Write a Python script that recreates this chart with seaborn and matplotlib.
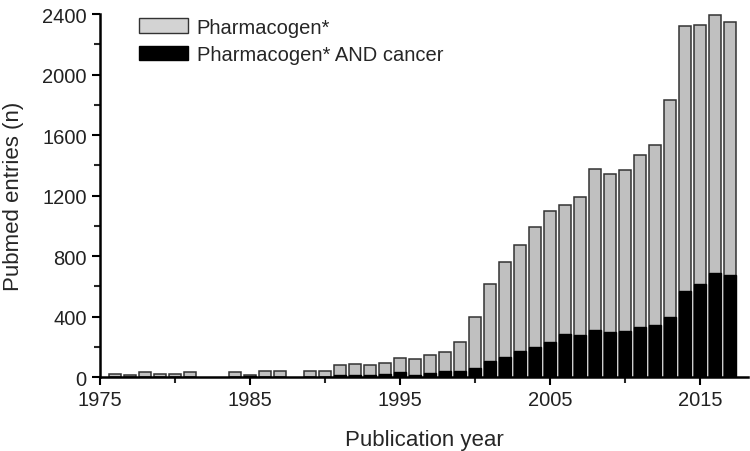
import matplotlib
matplotlib.use("Agg")
import matplotlib.pyplot as plt
from matplotlib.patches import Patch
from matplotlib.ticker import MultipleLocator
import seaborn as sns
import pandas as pd

years = [1976, 1977, 1978, 1979, 1980, 1981, 1984, 1985, 1986, 1987, 1989, 1990,
         1991, 1992, 1993, 1994, 1995, 1996, 1997, 1998, 1999, 2000, 2001, 2002,
         2003, 2004, 2005, 2006, 2007, 2008, 2009, 2010, 2011, 2012, 2013, 2014,
         2015, 2016, 2017]
pharmacogen = [22, 15, 30, 22, 22, 30, 30, 15, 40, 37, 42, 38,
               77, 86, 78, 92, 123, 117, 145, 168, 233, 395, 618, 760,
               875, 992, 1097, 1135, 1192, 1377, 1340, 1371, 1468, 1532, 1834, 2318,
               2325, 2395, 2345]
cancer = [0, 0, 0, 0, 0, 0, 0, 5, 0, 0, 0, 3,
          10, 15, 15, 20, 35, 15, 25, 42, 43, 58, 105, 130,
          172, 196, 232, 284, 278, 311, 298, 304, 328, 342, 399, 571,
          615, 685, 674]
xticks = [1975, 1985, 1995, 2005, 2015]

df = pd.DataFrame({"year": years, "total": pharmacogen, "cancer": cancer})

sns.set_style("ticks")
plt.rcParams["font.family"] = ["Liberation Sans", "DejaVu Sans"]

fig = plt.figure(figsize=(7.5, 4.52), dpi=100)
ax = fig.add_axes([0.1333, 0.1637, 0.864, 0.803])

sns.barplot(data=df, x="year", y="total", native_scale=True, width=0.85,
            color="#c0c0c0", saturation=1, edgecolor="#333333", linewidth=1.1,
            errorbar=None, ax=ax)
sns.barplot(data=df, x="year", y="cancer", native_scale=True, width=0.85,
            color="black", saturation=1, edgecolor="black", linewidth=1.0,
            errorbar=None, ax=ax)

ax.set_xlim(1975, 2018.2)
ax.set_ylim(0, 2400)
ax.set_xticks(xticks)
ax.set_xticklabels([str(t) for t in xticks])
ax.set_xticks([1980, 1990, 2000, 2010], minor=True)
ax.yaxis.set_major_locator(MultipleLocator(400))
ax.yaxis.set_minor_locator(MultipleLocator(200))
ax.tick_params(which="major", length=6, width=1.5, labelsize=14.5, colors="black", pad=3.5)
ax.tick_params(which="minor", length=4, width=1.5)
for lab in ax.get_xticklabels() + ax.get_yticklabels():
    lab.set_color("#222222")

for s in ["top", "right"]:
    ax.spines[s].set_visible(False)
for s in ["left", "bottom"]:
    ax.spines[s].set_linewidth(1.8)
    ax.spines[s].set_color("black")

ax.set_xlabel("Publication year", fontsize=16, labelpad=14)
ax.set_ylabel("Pubmed entries (n)", fontsize=16, labelpad=13)

handles = [Patch(facecolor="#d3d3d3", edgecolor="#333333", linewidth=1.0, label="Pharmacogen*"),
           Patch(facecolor="black", edgecolor="black", label="Pharmacogen* AND cancer")]
ax.legend(handles=handles, loc="upper left", bbox_to_anchor=(0.06, 0.99), frameon=False,
          fontsize=14.5, handlelength=2.43, handleheight=0.75, handletextpad=0.45,
          labelspacing=0.42, borderpad=0, borderaxespad=0)

fig.savefig("out.png", dpi=100)
